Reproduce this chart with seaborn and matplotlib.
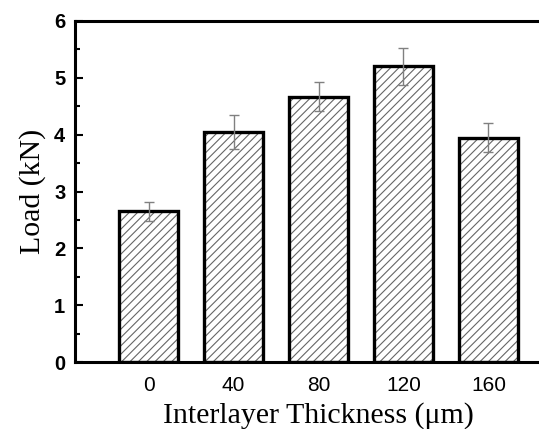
import matplotlib
matplotlib.use("Agg")
import matplotlib.pyplot as plt
import seaborn as sns
import pandas as pd

# Data
thickness = ["0", "40", "80", "120", "160"]
load = [2.65, 4.05, 4.67, 5.20, 3.95]
load_err = [0.17, 0.30, 0.25, 0.32, 0.26]
yticks = [0, 1, 2, 3, 4, 5, 6]

sns.set_theme(style="white")
plt.rcParams["hatch.linewidth"] = 0.8
plt.rcParams["text.color"] = "black"
plt.rcParams["xtick.color"] = "black"
plt.rcParams["ytick.color"] = "black"
plt.rcParams["axes.labelcolor"] = "black"

df = pd.DataFrame({"thickness": thickness, "load": load})

fig = plt.figure(figsize=(5.39, 4.29), dpi=100)
ax = fig.add_axes([75 / 539, 67 / 429, 487 / 539, 341 / 429])

sns.barplot(data=df, x="thickness", y="load", order=thickness, ax=ax,
            color="white", edgecolor="black", linewidth=2.4, width=0.7,
            hatch="////", errorbar=None, saturation=1)
for p in ax.patches:
    p._hatch_color = (0.4, 0.4, 0.4, 1.0)

ax.errorbar(range(len(thickness)), load, yerr=load_err, fmt="none",
            ecolor="0.5", elinewidth=1.0, capsize=3.5, capthick=1.0, zorder=5)

ax.set_xlim(-0.865, len(thickness) - 1 + 0.865)
ax.set_ylim(0, 6)
ax.set_yticks(yticks)
ax.set_yticks([0.5 + i for i in range(6)], minor=True)

for s in ["left", "bottom", "top", "right"]:
    ax.spines[s].set_visible(True)
    ax.spines[s].set_color("black")
    ax.spines[s].set_linewidth(2.2)

ax.tick_params(axis="y", which="major", direction="in", length=6, width=1.5,
               pad=7, left=True, labelsize=14.5, colors="black")
ax.tick_params(axis="y", which="minor", direction="in", length=3.5, width=1.5,
               left=True, colors="black")
ax.tick_params(axis="x", length=0, pad=10, labelsize=15, colors="black")

for lab in ax.get_yticklabels():
    lab.set_fontfamily("Liberation Sans")
    lab.set_fontweight("bold")
for lab in ax.get_xticklabels():
    lab.set_fontfamily("Liberation Sans")

ax.set_xlabel("Interlayer Thickness (μm)", fontfamily="Liberation Serif",
              fontsize=21.5, labelpad=5, color="black")
ax.set_ylabel("Load (kN)", fontfamily="Liberation Serif", fontsize=21.5,
              labelpad=6, color="black")

fig.savefig("out.png", dpi=100)
